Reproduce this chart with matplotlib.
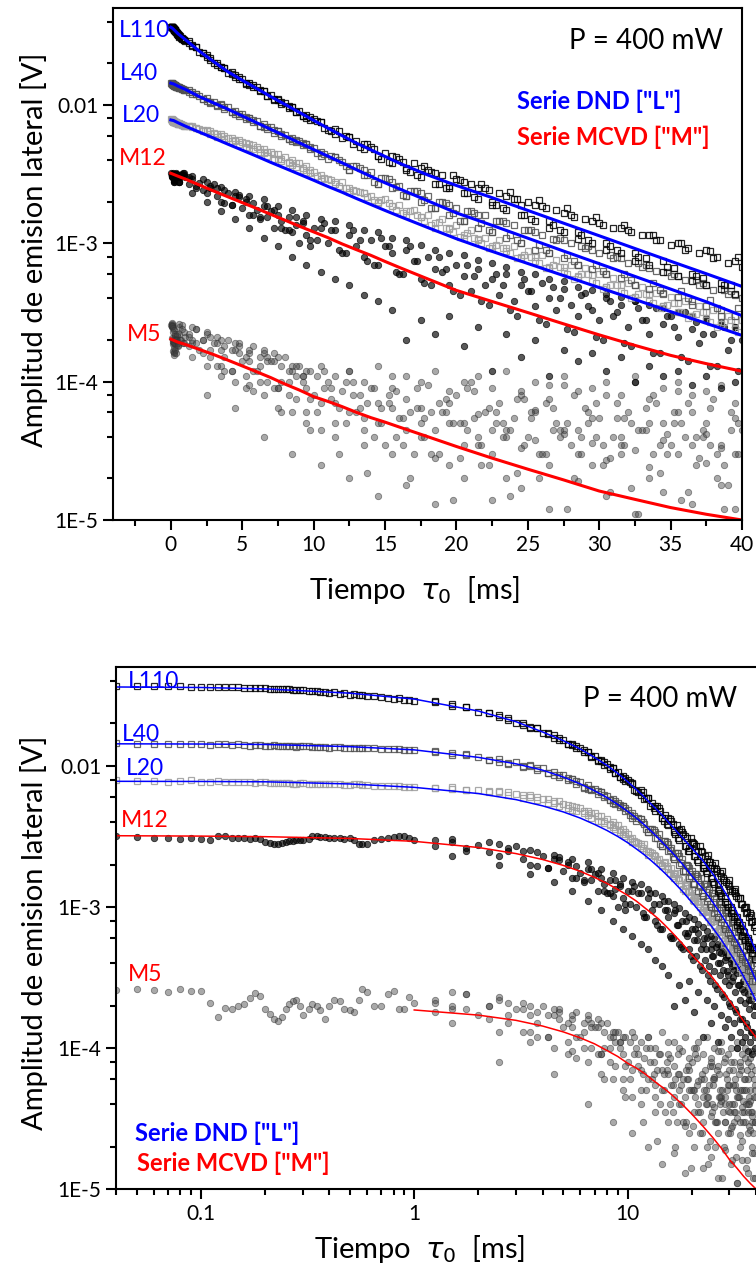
import matplotlib
matplotlib.use("Agg")
import matplotlib.pyplot as plt
import numpy as np
from matplotlib.ticker import FixedLocator, FixedFormatter, LogLocator, MultipleLocator, NullFormatter

plt.rcParams['font.family'] = ['Lato', 'DejaVu Sans']

# time grids of the measured points [ms]
t_pts = [0.04, 0.05, 0.06, 0.07, 0.08, 0.09, 0.10, 0.11, 0.12, 0.13, 0.14, 0.15, 0.16, 0.17, 0.18, 0.19,
         0.20, 0.22, 0.24, 0.26, 0.28, 0.30, 0.33, 0.36, 0.40, 0.45, 0.50, 0.55, 0.60, 0.70, 0.80, 0.90, 1.0,
         1.25, 1.5, 1.75, 2.0, 2.25, 2.5, 2.75, 3.0, 3.25, 3.5, 3.75, 4.0, 4.25, 4.5, 4.75, 5.0,
         5.25, 5.5, 5.75, 6.0, 6.25, 6.5, 6.75, 7.0, 7.25, 7.5, 7.75, 8.0, 8.25, 8.5, 8.75, 9.0,
         9.25, 9.5, 9.75, 10.0,
         10.5, 11.0, 11.5, 12.0, 12.5, 13.0, 13.5, 14.0, 14.5, 15.0, 15.5, 16.0, 16.5, 17.0, 17.5,
         18.0, 18.5, 19.0, 19.5, 20.0, 20.5, 21.0, 21.5, 22.0, 22.5, 23.0, 23.5, 24.0, 24.5, 25.0,
         25.5, 26.0, 26.5, 27.0, 27.5, 28.0, 28.5, 29.0, 29.5, 30.0, 30.5, 31.0, 31.5, 32.0, 32.5,
         33.0, 33.5, 34.0, 34.5, 35.0, 35.5, 36.0, 36.5, 37.0, 37.5, 38.0, 38.5, 39.0, 39.5, 40.0]
t_early = [0.21, 0.23, 0.25, 0.27, 0.29, 0.32, 0.35, 0.38, 0.42, 0.47, 0.52, 0.57, 0.65, 0.75, 0.85, 0.95]
t_half = [1.5, 2.5, 3.5, 4.5, 5.5, 6.5, 7.5, 8.5, 9.5, 10.5, 11.5, 12.5, 13.5, 14.5, 15.5, 16.5,
          17.5, 18.5, 19.5, 20.5, 21.5, 22.5, 23.5, 24.5, 25.5, 26.5, 27.5, 28.5, 29.5, 30.5, 31.5,
          32.5, 33.5, 34.5, 35.5, 36.5, 37.5, 38.5, 39.5]
t_q1 = [1.25, 2.25, 3.25, 4.25, 5.25, 6.25, 7.25, 8.25, 9.25, 10.25, 11.25, 12.25, 13.25, 14.25, 15.25,
        16.25, 17.25, 18.25, 19.25, 20.25, 21.25, 22.25, 23.25, 24.25, 25.25, 26.25, 27.25, 28.25, 29.25,
        30.25, 31.25, 32.25, 33.25, 34.25, 35.25, 36.25, 37.25, 38.25, 39.25]
t_q3 = [1.75, 2.75, 3.75, 4.75, 5.75, 6.75, 7.75, 8.75, 9.75, 10.75, 11.75, 12.75, 13.75, 14.75, 15.75,
        16.75, 17.75, 18.75, 19.75, 20.75, 21.75, 22.75, 23.75, 24.75, 25.75, 26.75, 27.75, 28.75, 29.75,
        30.75, 31.75, 32.75, 33.75, 34.75, 35.75, 36.75, 37.75, 38.75, 39.75]

# amplitudes in mV -- L110
L110_mV = [36.9, 36.7, 36.8, 36.6, 36.7, 36.5, 36.4, 36.4, 36.2, 36.3, 36.0, 36.1, 35.9, 35.8, 35.9, 35.6,
           35.5, 35.3, 35.0, 34.9, 34.5, 34.3, 33.9, 33.6, 33.0, 32.6, 32.0, 31.7, 31.2, 30.6, 29.9, 29.5, 29.0,
           28.8, 26.6, 26.1, 24.2, 23.9, 22.1, 21.9, 20.3, 20.1, 18.7, 18.5, 17.1, 17.2, 15.9, 15.9, 15.3,
           14.3, 14.4, 13.4, 13.5, 12.6, 12.6, 11.6, 11.8, 10.8, 11.1, 10.1, 10.4, 9.5, 9.7, 8.9, 9.1,
           8.4, 8.5, 7.8, 7.9,
           7.5, 6.6, 6.7, 5.8, 5.9, 5.5, 4.8, 5.0, 4.3, 4.5, 3.8, 4.1, 3.4, 3.8, 3.0,
           3.4, 2.7, 3.1, 2.5, 2.9, 2.3, 2.7, 2.1, 2.5, 1.9, 2.3, 1.75, 2.1, 1.6, 2.0,
           1.45, 1.85, 1.30, 1.75, 1.2, 1.6, 1.08, 1.5, 1.0, 1.4, 0.9, 1.3, 0.85, 1.25, 0.75,
           1.15, 0.7, 1.05, 0.62, 0.98, 0.58, 0.9, 0.53, 0.85, 0.5, 0.78, 0.47, 0.72, 0.43, 0.68]
L110_early = [35.4, 35.1, 35.0, 34.7, 34.6, 34.2, 34.0, 33.7, 33.3, 32.9, 32.3, 31.9, 31.4, 30.5, 30.2, 29.3]
L110_half = [27.3, 22.9, 18.8, 16.5, 14.0, 12.6, 10.9, 9.6, 8.1, 7.6, 6.2, 5.9, 5.2, 4.3, 4.3, 3.5,
             3.5, 3.2, 2.6, 2.8, 2.5, 2.0, 2.2, 1.9, 1.9, 1.45, 1.65, 1.2, 1.45, 1.0, 1.3,
             0.85, 1.15, 0.75, 1.0, 0.6, 0.9, 0.52, 0.75]
L110_q1 = [28.2, 23.6, 19.6, 16.9, 14.4, 12.9, 11.0, 9.9, 8.4, 7.7, 6.5, 5.95, 5.0, 4.8, 3.9, 3.9, 3.1, 3.3, 2.5,
           2.85, 2.15, 2.45, 1.8, 2.1, 1.5, 1.8, 1.25, 1.55, 1.05, 1.35, 0.9, 1.2, 0.78, 1.05, 0.66, 0.92,
           0.56, 0.8, 0.5]
L110_q3 = [26.3, 21.2, 18.5, 15.3, 13.9, 11.7, 10.6, 8.9, 8.2, 6.8, 6.5, 5.2, 5.2, 4.1, 4.2, 3.3, 3.6, 2.7, 3.1,
           2.3, 2.7, 1.9, 2.35, 1.6, 2.05, 1.35, 1.8, 1.15, 1.55, 0.95, 1.35, 0.8, 1.15, 0.68, 1.0, 0.58,
           0.88, 0.5, 0.8]

# L40
L40_mV = [14.5, 14.3, 14.4, 14.2, 14.3, 14.4, 14.2, 14.1, 14.3, 14.2, 14.0, 14.2, 14.1, 13.9, 14.1, 14.0,
          13.9, 14.0, 13.8, 13.9, 13.7, 13.8, 13.6, 13.7, 13.5, 13.6, 13.4, 13.4, 13.3, 13.2, 13.1, 12.9, 12.9,
          12.8, 12.0, 12.1, 11.6, 11.0, 11.2, 10.4, 10.6, 9.9, 10.1, 9.3, 9.6, 8.9, 9.1, 8.4, 8.6,
          7.9, 8.1, 7.5, 7.7, 7.0, 7.3, 6.7, 6.9, 6.3, 6.5, 6.0, 6.1, 5.7, 5.8, 5.4, 5.5,
          5.1, 5.2, 4.8, 4.9,
          4.6, 4.1, 4.2, 3.9, 3.4, 3.6, 3.1, 3.3, 2.7, 2.95, 2.5, 2.6, 2.2, 2.4, 2.0,
          2.2, 1.8, 2.0, 1.6, 1.8, 1.45, 1.7, 1.3, 1.6, 1.2, 1.45, 1.1, 1.35, 1.0, 1.25,
          0.9, 1.15, 0.85, 1.05, 0.78, 1.0, 0.7, 0.92, 0.65, 0.85, 0.6, 0.78, 0.56, 0.72, 0.5,
          0.68, 0.47, 0.63, 0.44, 0.58, 0.41, 0.54, 0.38, 0.5, 0.35, 0.46, 0.33, 0.43, 0.3, 0.4]
L40_early = [13.95, 13.9, 13.85, 13.8, 13.85, 13.75, 13.7, 13.65, 13.6, 13.5, 13.45, 13.35, 13.3, 13.15, 13.1, 12.95]
L40_half = [12.4, 10.7, 10.0, 8.6, 8.1, 6.9, 6.5, 5.5, 5.2, 4.3, 4.2, 3.4, 3.4, 2.7, 2.8, 2.2,
            2.3, 1.8, 1.9, 1.45, 1.6, 1.2, 1.4, 1.0, 1.2, 0.85, 1.05, 0.7, 0.9, 0.6, 0.78,
            0.5, 0.66, 0.43, 0.58, 0.36, 0.5, 0.3, 0.42]
L40_q1 = [12.5, 11.1, 10.0, 8.9, 8.2, 7.1, 6.6, 5.7, 5.3, 4.5, 4.3, 3.6, 3.5, 2.8, 2.9, 2.25, 2.4, 1.8, 1.95,
          1.45, 1.65, 1.25, 1.45, 1.05, 1.25, 0.9, 1.1, 0.75, 0.95, 0.63, 0.8, 0.54, 0.7, 0.46, 0.6, 0.4,
          0.52, 0.34, 0.45]
L40_q3 = [12.0, 10.5, 9.6, 8.6, 7.8, 6.9, 6.2, 5.6, 5.0, 4.4, 4.0, 3.6, 3.1, 2.95, 2.55, 2.4, 2.05, 2.0, 1.65,
          1.7, 1.4, 1.45, 1.15, 1.25, 0.98, 1.08, 0.82, 0.95, 0.7, 0.82, 0.6, 0.72, 0.52, 0.62, 0.45, 0.54,
          0.39, 0.46, 0.34]

# L20
L20_mV = [7.9, 7.8, 7.85, 7.75, 7.8, 7.9, 7.7, 7.75, 7.8, 7.7, 7.75, 7.65, 7.7, 7.75, 7.6, 7.7,
          7.65, 7.6, 7.55, 7.6, 7.5, 7.55, 7.45, 7.5, 7.4, 7.45, 7.35, 7.4, 7.3, 7.25, 7.2, 7.1, 7.05,
          7.0, 6.9, 6.8, 6.7, 6.6, 6.6, 6.5, 6.3, 6.2, 6.2, 6.0, 5.8, 5.8, 5.6, 5.6, 5.4,
          5.3, 5.2, 5.1, 5.0, 4.8, 4.8, 4.6, 4.6, 4.4, 4.4, 4.1, 4.2, 3.9, 4.0, 3.8, 3.8,
          3.5, 3.6, 3.4, 3.3,
          3.1, 2.9, 2.7, 2.8, 2.5, 2.4, 2.3, 2.2, 2.0, 2.1, 1.85, 1.9, 1.7, 1.75, 1.55,
          1.6, 1.4, 1.5, 1.3, 1.35, 1.15, 1.25, 1.05, 1.1, 0.95, 1.05, 0.88, 0.95, 0.8, 0.88,
          0.74, 0.82, 0.68, 0.76, 0.63, 0.7, 0.58, 0.66, 0.53, 0.6, 0.48, 0.56, 0.45, 0.52, 0.41,
          0.48, 0.38, 0.44, 0.35, 0.41, 0.32, 0.38, 0.3, 0.35, 0.28, 0.33, 0.26, 0.3, 0.24, 0.28]
L20_early = [7.6, 7.55, 7.6, 7.5, 7.55, 7.5, 7.45, 7.5, 7.4, 7.35, 7.4, 7.3, 7.25, 7.2, 7.15, 7.1]
L20_half = [7.1, 6.5, 6.0, 5.5, 4.9, 4.5, 4.1, 3.7, 3.3, 2.9, 2.8, 2.35, 2.3, 1.95, 1.85, 1.6,
            1.55, 1.3, 1.28, 1.1, 1.08, 0.92, 0.92, 0.78, 0.8, 0.66, 0.68, 0.57, 0.59, 0.48, 0.5,
            0.41, 0.43, 0.35, 0.37, 0.3, 0.32, 0.26, 0.27]
L20_q1 = [7.0, 6.5, 5.9, 5.5, 5.0, 4.6, 4.1, 3.8, 3.4, 3.05, 2.85, 2.5, 2.35, 2.05, 1.95, 1.65, 1.6, 1.35, 1.3,
          1.12, 1.1, 0.92, 0.93, 0.78, 0.8, 0.66, 0.68, 0.55, 0.6, 0.47, 0.5, 0.4, 0.43, 0.34, 0.37, 0.29,
          0.32, 0.25, 0.28]
L20_q3 = [6.8, 6.2, 5.7, 5.2, 4.8, 4.3, 3.95, 3.55, 3.2, 2.95, 2.6, 2.45, 2.15, 2.05, 1.75, 1.7, 1.45, 1.42,
          1.2, 1.18, 1.0, 0.98, 0.85, 0.83, 0.72, 0.7, 0.6, 0.6, 0.52, 0.5, 0.44, 0.43, 0.37, 0.36, 0.32,
          0.31, 0.27, 0.27, 0.23]

# M12
M12_mV = [3.2, 3.15, 3.1, 3.07, 3.05, 3.06, 3.05, 3.0, 3.2, 3.18, 3.1, 3.08, 3.1, 3.05, 3.07, 3.05,
          2.9, 2.8, 2.82, 2.95, 3.0, 3.0, 3.2, 3.15, 3.1, 3.08, 3.1, 2.78, 2.8, 3.05, 3.15, 3.2, 3.0,
          3.0, 2.9, 2.6, 2.75, 2.9, 2.3, 2.5, 2.7, 2.2, 2.0, 2.45, 2.3, 1.9, 2.2, 2.25, 1.8,
          2.0, 1.6, 1.95, 1.75, 1.5, 1.85, 1.55, 1.7, 1.3, 1.6, 1.45, 1.25, 1.55, 1.2, 1.35, 1.0,
          1.4, 1.15, 0.95, 1.3,
          1.3, 1.0, 1.25, 0.85, 1.15, 0.95, 0.8, 1.05, 0.7, 0.95, 0.85, 0.6, 0.9, 0.75, 0.55,
          0.8, 0.65, 0.62, 0.5, 0.7, 0.58, 0.45, 0.65, 0.5, 0.55, 0.42, 0.6, 0.38, 0.5, 0.45,
          0.35, 0.52, 0.4, 0.33, 0.47, 0.36, 0.3, 0.44, 0.33, 0.28, 0.4, 0.3, 0.36, 0.25, 0.38,
          0.28, 0.22, 0.34, 0.26, 0.3, 0.21, 0.32, 0.24, 0.19, 0.29, 0.22, 0.26, 0.17, 0.25, 0.2]
M12_early = [2.85, 2.8, 2.9, 2.95, 3.0, 3.05, 3.18, 3.12, 3.1, 3.05, 3.0, 2.8, 3.0, 3.1, 3.2, 3.1]
M12_half_low = [2.3, 2.0, 1.7, 1.5, 1.3, 1.1, 0.95, 0.8, 0.7, 0.62, 0.55, 0.5, 0.42, 0.38, 0.33, 0.2,
                0.28, 0.22, 0.3, 0.18, 0.25, 0.12, 0.22, 0.15, 0.2, 0.11, 0.17, 0.14, 0.16, 0.12, 0.15,
                0.1, 0.13, 0.11, 0.12, 0.095, 0.11, 0.09, 0.1]
M12_half_high = [3.05, 2.8, 2.55, 2.35, 2.2, 2.1, 1.85, 1.75, 1.6, 1.5, 1.45, 1.35, 1.25, 1.2, 1.1, 1.05,
                 0.98, 0.9, 0.85, 0.82, 0.76, 0.72, 0.68, 0.62, 0.6, 0.55, 0.53, 0.48, 0.46, 0.43, 0.41,
                 0.38, 0.36, 0.34, 0.32, 0.3, 0.28, 0.27, 0.25]
M12_q1 = [2.7, 2.45, 2.5, 1.9, 2.1, 1.55, 1.75, 1.25, 1.45, 1.05, 1.25, 0.85, 1.05, 0.7, 0.95, 0.6, 0.75, 0.5,
          0.65, 0.42, 0.58, 0.36, 0.5, 0.3, 0.45, 0.26, 0.4, 0.23, 0.35, 0.2, 0.32, 0.18, 0.28, 0.16, 0.25,
          0.14, 0.22, 0.13, 0.2]
M12_q3 = [2.5, 2.6, 1.95, 2.15, 1.6, 1.85, 1.3, 1.55, 1.05, 1.4, 0.9, 1.25, 0.75, 1.1, 0.62, 0.95, 0.52, 0.8,
          0.45, 0.7, 0.38, 0.6, 0.33, 0.55, 0.28, 0.48, 0.24, 0.42, 0.21, 0.38, 0.19, 0.34, 0.16, 0.3, 0.15,
          0.27, 0.13, 0.25, 0.12]

# M5
M5_mV = [0.258, 0.262, 0.258, 0.25, 0.264, 0.252, 0.252, 0.207, 0.167, 0.192, 0.188, 0.197, 0.205, 0.227, 0.245, 0.235,
         0.19, 0.16, 0.165, 0.205, 0.22, 0.17, 0.205, 0.185, 0.2, 0.215, 0.185, 0.22, 0.25, 0.2, 0.255, 0.19, 0.21,
         0.22, 0.19, 0.24, 0.17, 0.2, 0.23, 0.15, 0.19, 0.21, 0.13, 0.18, 0.2, 0.12, 0.17, 0.19, 0.14,
         0.09, 0.16, 0.18, 0.12, 0.15, 0.17, 0.1, 0.14, 0.16, 0.09, 0.13, 0.15, 0.1, 0.12, 0.075, 0.13,
         0.11, 0.09, 0.12, 0.08,
         0.07, 0.1, 0.05, 0.085, 0.12, 0.06, 0.045, 0.09, 0.07, 0.035, 0.11, 0.055, 0.075, 0.03, 0.065,
         0.095, 0.045, 0.06, 0.025, 0.08, 0.05, 0.1, 0.035, 0.06, 0.045, 0.07, 0.02, 0.055, 0.085, 0.04,
         0.06, 0.03, 0.075, 0.05, 0.095, 0.035, 0.045, 0.065, 0.025, 0.055, 0.08, 0.04, 0.03, 0.06, 0.1,
         0.045, 0.02, 0.07, 0.05, 0.035, 0.085, 0.04, 0.06, 0.028, 0.05, 0.075, 0.035, 0.018, 0.055, 0.045]
M5_early = [0.175, 0.155, 0.19, 0.215, 0.2, 0.19, 0.2, 0.16, 0.22, 0.19, 0.18, 0.26, 0.2, 0.24, 0.19, 0.23]
M5_half_a = [0.25, 0.22, 0.2, 0.19, 0.17, 0.16, 0.15, 0.13, 0.12, 0.13, 0.11, 0.12, 0.1, 0.13, 0.09, 0.11,
             0.1, 0.12, 0.085, 0.1, 0.11, 0.09, 0.12, 0.08, 0.1, 0.095, 0.11, 0.085, 0.09, 0.1, 0.08,
             0.11, 0.075, 0.09, 0.1, 0.08, 0.085, 0.095, 0.07]
M5_half_b = [0.15, 0.13, 0.11, 0.1, 0.095, 0.08, 0.065, 0.06, 0.05, 0.045, 0.04, 0.06, 0.035, 0.05, 0.03, 0.045,
             0.04, 0.028, 0.05, 0.035, 0.04, 0.03, 0.045, 0.033, 0.038, 0.025, 0.042, 0.03, 0.036, 0.027, 0.04,
             0.032, 0.024, 0.038, 0.03, 0.035, 0.026, 0.033, 0.03]
M5_half_c = [0.2, 0.08, 0.17, 0.065, 0.14, 0.04, 0.09, 0.03, 0.06, 0.025, 0.07, 0.02, 0.055, 0.015, 0.065, 0.018,
             0.05, 0.013, 0.07, 0.02, 0.058, 0.014, 0.04, 0.017, 0.062, 0.012, 0.045, 0.019, 0.055, 0.015, 0.035,
             0.011, 0.05, 0.016, 0.06, 0.013, 0.042, 0.018, 0.012]
M5_q1_a = [0.21, 0.16, 0.19, 0.12, 0.15, 0.1, 0.14, 0.08, 0.11, 0.06, 0.09, 0.05, 0.08, 0.04, 0.07, 0.035, 0.065,
           0.03, 0.06, 0.028, 0.055, 0.025, 0.05, 0.022, 0.06, 0.03, 0.045, 0.02, 0.05, 0.025, 0.055, 0.017,
           0.045, 0.022, 0.05, 0.016, 0.04, 0.02, 0.045]
M5_q1_b = [0.18, 0.2, 0.13, 0.17, 0.11, 0.13, 0.09, 0.12, 0.1, 0.11, 0.075, 0.1, 0.065, 0.09, 0.08, 0.055, 0.09,
           0.06, 0.075, 0.05, 0.085, 0.065, 0.04, 0.075, 0.055, 0.07, 0.04, 0.08, 0.06, 0.035, 0.07, 0.05,
           0.065, 0.035, 0.06, 0.07, 0.045, 0.03, 0.06]
M5_q3_a = [0.24, 0.17, 0.15, 0.16, 0.12, 0.14, 0.1, 0.11, 0.075, 0.12, 0.065, 0.1, 0.07, 0.05, 0.085, 0.06, 0.04,
           0.07, 0.05, 0.09, 0.035, 0.06, 0.045, 0.075, 0.03, 0.065, 0.05, 0.04, 0.07, 0.028, 0.055, 0.045,
           0.08, 0.03, 0.05, 0.04, 0.065, 0.025, 0.05]
M5_q3_b = [0.19, 0.21, 0.12, 0.18, 0.085, 0.15, 0.06, 0.13, 0.045, 0.09, 0.03, 0.08, 0.022, 0.065, 0.04, 0.02,
           0.055, 0.03, 0.014, 0.045, 0.025, 0.05, 0.015, 0.035, 0.02, 0.045, 0.012, 0.03, 0.04, 0.016, 0.035,
           0.011, 0.03, 0.042, 0.014, 0.025, 0.035, 0.012, 0.03]

# fitted curves [mV]
t_fit = [0, 0.04, 0.1, 0.2, 0.5, 1, 2, 3, 4, 5, 6, 7, 8, 9, 10, 11, 12, 13, 14, 15, 16, 18, 20,
         22.5, 25, 27.5, 30, 32.5, 35, 37.5, 40]
fit_L110 = [36.5, 36.3, 36.0, 35.2, 32.8, 29.8, 24.5, 20.6, 17.4, 15.1, 13.2, 11.5, 10.1, 8.85, 7.75, 6.8,
            6.0, 5.3, 4.75, 4.25, 3.8, 3.12, 2.62, 2.14, 1.73, 1.40, 1.135, 0.918, 0.743, 0.603, 0.488]
fit_L40 = [14.4, 14.35, 14.3, 14.2, 13.7, 13.0, 11.5, 10.35, 9.33, 8.34, 7.46, 6.67, 5.97, 5.33, 4.77, 4.27,
           3.82, 3.41, 3.05, 2.74, 2.48, 2.03, 1.66, 1.35, 1.09, 0.88, 0.713, 0.577, 0.467, 0.378, 0.30]
fit_L20 = [7.8, 7.78, 7.76, 7.72, 7.45, 7.05, 6.37, 5.77, 5.21, 4.72, 4.27, 3.85, 3.49, 3.16, 2.86, 2.58,
           2.34, 2.11, 1.91, 1.73, 1.57, 1.30, 1.08, 0.875, 0.715, 0.585, 0.479, 0.393, 0.321, 0.264, 0.216]
fit_M12 = [3.21, 3.2, 3.18, 3.15, 3.06, 2.92, 2.64, 2.39, 2.17, 1.97, 1.79, 1.62, 1.47, 1.33, 1.21, 1.10,
           0.99, 0.90, 0.82, 0.74, 0.67, 0.553, 0.457, 0.38, 0.316, 0.262, 0.218, 0.183, 0.155, 0.135, 0.119]
fit_M5 = [0.203, 0.202, 0.201, 0.199, 0.193, 0.186, 0.171, 0.157, 0.143, 0.130, 0.118, 0.107, 0.096, 0.087,
          0.078, 0.072, 0.066, 0.060, 0.055, 0.051, 0.047, 0.040, 0.034, 0.028, 0.0233, 0.0195, 0.0162,
          0.0141, 0.0123, 0.011, 0.0100]

BLUE = '#0000ff'
RED = '#ff0000'

tf = np.array(t_fit)
V = lambda mv: np.array(mv) / 1000.0

# marker styles
sq_black = dict(ls='none', marker='s', ms=4.4, mfc='none', mec='black', mew=0.9, alpha=0.85)
sq_dark = dict(ls='none', marker='s', ms=4.4, mfc='none', mec='#505050', mew=0.9, alpha=0.85)
sq_light = dict(ls='none', marker='s', ms=4.4, mfc='none', mec='#a0a0a0', mew=0.9, alpha=0.9)
c_black = dict(ls='none', marker='o', ms=4.6, mfc=(0, 0, 0, 0.65), mec=(0, 0, 0, 0.75), mew=0.6)
c_gray = dict(ls='none', marker='o', ms=4.6, mfc=(0.25, 0.25, 0.25, 0.45), mec=(0.2, 0.2, 0.2, 0.55), mew=0.6)

series = [
    (c_gray, [(t_pts, M5_mV), (t_early, M5_early), (t_half, M5_half_a), (t_half, M5_half_b),
              (t_half, M5_half_c), (t_q1, M5_q1_a), (t_q1, M5_q1_b), (t_q3, M5_q3_a), (t_q3, M5_q3_b)]),
    (c_black, [(t_pts, M12_mV), (t_early, M12_early), (t_half, M12_half_low), (t_half, M12_half_high),
               (t_q1, M12_q1), (t_q3, M12_q3)]),
    (sq_light, [(t_pts, L20_mV), (t_early, L20_early), (t_half, L20_half), (t_q1, L20_q1), (t_q3, L20_q3)]),
    (sq_dark, [(t_pts, L40_mV), (t_early, L40_early), (t_half, L40_half), (t_q1, L40_q1), (t_q3, L40_q3)]),
    (sq_black, [(t_pts, L110_mV), (t_early, L110_early), (t_half, L110_half), (t_q1, L110_q1), (t_q3, L110_q3)]),
]


def draw_data(ax, lw, m5_from):
    for style, parts in series:
        for tt, yy in parts:
            ax.plot(np.array(tt), V(yy), **style)
    first = 0 if m5_from is None else 1
    ax.plot(tf[first:], V(fit_L110)[first:], color=BLUE, lw=lw)
    ax.plot(tf[first:], V(fit_L40)[first:], color=BLUE, lw=lw)
    ax.plot(tf[first:], V(fit_L20)[first:], color=BLUE, lw=lw)
    ax.plot(tf[first:], V(fit_M12)[first:], color=RED, lw=lw)
    keep = tf >= (0 if m5_from is None else m5_from)
    ax.plot(tf[keep], V(fit_M5)[keep], color=RED, lw=lw)


def style_axes(ax):
    for s in ax.spines.values():
        s.set_linewidth(1.5)
    ax.tick_params(which='both', direction='out', top=False, right=False, width=1.5, labelsize=15)
    ax.tick_params(which='major', length=7.5, pad=3)
    ax.tick_params(which='minor', length=4.5)
    ax.set_yscale('log')
    ax.set_ylim(1e-5, 0.0503)
    ax.yaxis.set_major_locator(FixedLocator([1e-5, 1e-4, 1e-3, 1e-2]))
    ax.yaxis.set_major_formatter(FixedFormatter(['1E-5', '1E-4', '1E-3', '0.01']))
    ax.yaxis.set_minor_locator(LogLocator(base=10, subs=(2, 4, 6, 8)))
    ax.yaxis.set_minor_formatter(NullFormatter())
    ax.set_ylabel('Amplitud de emision lateral [V]', fontsize=21)


fig = plt.figure(figsize=(7.56, 12.75), dpi=100)

# ---- top panel: linear time axis
ax1 = fig.add_axes([113 / 756, 1 - 520 / 1275, 629 / 756, 512 / 1275])
draw_data(ax1, 2.2, None)
style_axes(ax1)
ax1.set_xlim(-4.05, 40)
ax1.xaxis.set_major_locator(MultipleLocator(5))
ax1.xaxis.set_minor_locator(MultipleLocator(2.5))
ax1.set_xlabel('Tiempo  $\\tau_{\\mathit{0}}$  [ms]', fontsize=21)
ax1.xaxis.set_label_coords(0.48, -0.105)
ax1.yaxis.set_label_coords(-0.103, 0.527)

lab = dict(transform=ax1.transAxes, va='center', fontsize=16.5)
ax1.text(0.0095, 0.957, 'L110', color=BLUE, ha='left', **lab)
ax1.text(0.0110, 0.873, 'L40', color=BLUE, ha='left', **lab)
ax1.text(0.0140, 0.790, 'L20', color=BLUE, ha='left', **lab)
ax1.text(0.0095, 0.707, 'M12', color=RED, ha='left', **lab)
ax1.text(0.0220, 0.363, 'M5', color=RED, ha='left', **lab)
ax1.text(0.970, 0.936, 'P = 400 mW', color='black', ha='right', va='center',
         fontsize=20, transform=ax1.transAxes)
ax1.text(0.642, 0.818, 'Serie DND ["L"]', color=BLUE, ha='left', va='center',
         fontsize=17, fontweight='bold', transform=ax1.transAxes)
ax1.text(0.642, 0.748, 'Serie MCVD ["M"]', color=RED, ha='left', va='center',
         fontsize=17, fontweight='bold', transform=ax1.transAxes)

# ---- bottom panel: log time axis
ax2 = fig.add_axes([116 / 756, 1 - 1189 / 1275, 640 / 756, 522 / 1275])
draw_data(ax2, 1.1, 0.9)
style_axes(ax2)
ax2.set_xscale('log')
ax2.set_xlim(0.04, 40)
ax2.xaxis.set_major_locator(FixedLocator([0.1, 1, 10]))
ax2.xaxis.set_major_formatter(FixedFormatter(['0.1', '1', '10']))
ax2.xaxis.set_minor_locator(LogLocator(base=10, subs=(2, 3, 4, 5, 6, 7, 8, 9)))
ax2.xaxis.set_minor_formatter(NullFormatter())
ax2.spines['right'].set_visible(False)
ax2.set_xlabel('Tiempo  $\\tau_{\\mathit{0}}$  [ms]', fontsize=21)
ax2.xaxis.set_label_coords(0.475, -0.085)
ax2.yaxis.set_label_coords(-0.106, 0.49)

lab2 = dict(transform=ax2.transAxes, va='center', fontsize=16.5)
ax2.text(0.019, 0.973, 'L110', color=BLUE, ha='left', **lab2)
ax2.text(0.009, 0.870, 'L40', color=BLUE, ha='left', **lab2)
ax2.text(0.016, 0.805, 'L20', color=BLUE, ha='left', **lab2)
ax2.text(0.008, 0.705, 'M12', color=RED, ha='left', **lab2)
ax2.text(0.019, 0.410, 'M5', color=RED, ha='left', **lab2)
ax2.text(0.970, 0.939, 'P = 400 mW', color='black', ha='right', va='center',
         fontsize=20, transform=ax2.transAxes)
ax2.text(0.030, 0.107, 'Serie DND ["L"]', color=BLUE, ha='left', va='center',
         fontsize=17, fontweight='bold', transform=ax2.transAxes)
ax2.text(0.033, 0.050, 'Serie MCVD ["M"]', color=RED, ha='left', va='center',
         fontsize=17, fontweight='bold', transform=ax2.transAxes)

fig.savefig('out.png', dpi=100)
